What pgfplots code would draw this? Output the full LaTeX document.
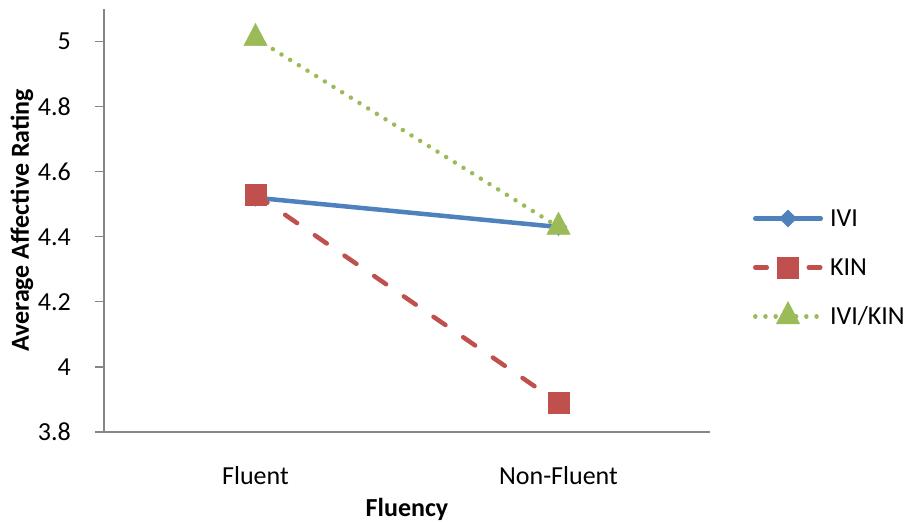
\documentclass[border=0pt]{standalone}
\usepackage{pgfplots}
\pgfplotsset{compat=1.18}
\usepackage{fontspec}
\setmainfont{Carlito}

\definecolor{ivi}{HTML}{4F81BD}
\definecolor{kin}{HTML}{C0504D}
\definecolor{ivikin}{HTML}{9BBB59}
\definecolor{axisgray}{HTML}{868686}

\newcommand{\chartfont}{\fontsize{26}{31}\selectfont}

\begin{document}
\begin{tikzpicture}
\useasboundingbox (-104pt,-90pt) rectangle (802pt,432pt);
\begin{axis}[
  at={(0pt,0pt)}, anchor=south west,
  scale only axis, width=606pt, height=423pt,
  xmin=-0.5, xmax=1.5, ymin=3.8, ymax=5.1,
  xtick={0,1}, xticklabels={Fluent,Non-Fluent},
  ytick={3.8,4,4.2,4.4,4.6,4.8,5},
  axis lines*=left,
  axis line style={axisgray, line width=1.2pt},
  tick align=outside,
  major tick length=9pt,
  ytick style={axisgray, line width=1.2pt},
  xtick style={draw=none},
  tick label style={font=\chartfont, /pgf/number format/assume math mode=true},
  xticklabel style={anchor=center, yshift=-35pt},
  yticklabel style={anchor=east, inner sep=0pt, xshift=-24pt},
  xlabel={Fluency},
  ylabel={Average Affective Rating},
  xlabel style={at={(axis description cs:0.5,-0.182)}, anchor=center, font=\bfseries\chartfont},
  ylabel style={at={(axis description cs:-0.1353,0.5)}, anchor=center, font=\bfseries\chartfont},
  legend image code/.code={
    \draw[mark repeat=2,mark phase=2] plot coordinates {(2.25pt,0pt) (35pt,0pt) (67.75pt,0pt)};
  },
  legend cell align=left,
  legend style={at={(rel axis cs:1.0710,0.389)}, anchor=west, draw=none, fill=none,
    inner sep=0pt, outer sep=0pt, row sep=19pt, column sep=7pt, font=\chartfont,
    nodes={inner sep=0pt, text height=17pt, text depth=0pt, minimum height=30pt}},
]
\addplot[ivi, line width=4.5pt, line cap=round, mark=square*, mark size=6pt,
  mark options={rotate=45, solid, fill=ivi, line width=0.5pt}]
  coordinates {(0,4.52) (1,4.43)};
\addlegendentry{IVI}

\addplot[kin, line width=4.5pt, line cap=round, dash pattern=on 14.5pt off 21.5pt,
  mark=square*, mark size=10.5pt, mark options={solid, fill=kin, line width=0.5pt},
  legend image code/.code={
    \draw[mark repeat=2,mark phase=2, dash pattern=on 11.5pt off 42pt]
      plot coordinates {(2.25pt,0pt) (35pt,0pt) (67.75pt,0pt)};
  }]
  coordinates {(0,4.53) (1,3.89)};
\addlegendentry{KIN}

\addplot[ivikin, line width=4.5pt, line cap=round, dash pattern=on 0.01pt off 10.2pt,
  mark=triangle*, mark size=13.5pt,
  mark options={solid, fill=ivikin, line width=0.5pt, yscale=1.1}]
  coordinates {(0,5.01) (1,4.43)};
\addlegendentry{IVI/KIN}
\end{axis}
\end{tikzpicture}
\end{document}
